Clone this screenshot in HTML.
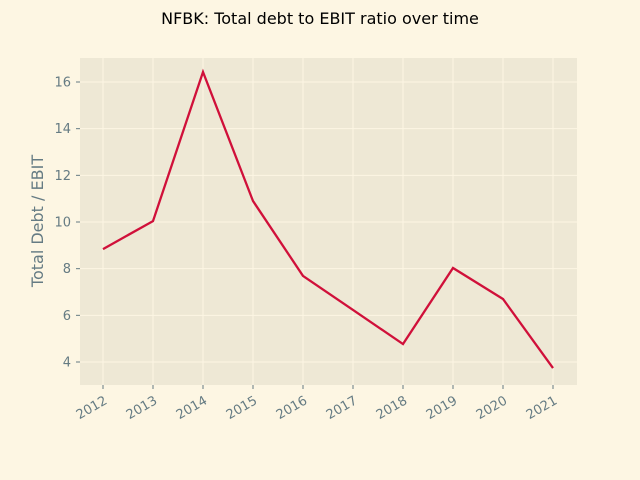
<!DOCTYPE html>
<html><head><meta charset="utf-8"><style>
body{margin:0;background:#fdf6e3;}
svg{display:block;font-family:"DejaVu Sans","Liberation Sans",sans-serif;}
</style></head><body>
<svg id="chart" width="640" height="480">
<rect x="0" y="0" width="640" height="480" fill="#fdf6e3"/>
<text x="320" y="24" text-anchor="middle" font-size="16" fill="#000">NFBK: Total debt to EBIT ratio over time</text>
<rect x="80" y="58" width="497" height="327" fill="#eee8d5"/>
<g id="grid"></g><g id="ticks"></g>
<text transform="translate(43,221) rotate(-90)" text-anchor="middle" font-size="16" fill="#657b83">Total Debt / EBIT</text>
<path id="line" fill="none" stroke="#d0103a" stroke-width="2.3"/>
</svg>
<script>
const years=[2012,2013,2014,2015,2016,2017,2018,2019,2020,2021];
const ratios=[8.84,10.04,16.43,10.9,7.69,6.23,4.77,8.03,6.7,3.74];
const yTicks=[4,6,8,10,12,14,16];
const NS="http://www.w3.org/2000/svg";
const xs=y=>103+(y-2012)*50;
const ys=v=>362-(v-4)*23.333;
const grid=document.getElementById('grid'),ticks=document.getElementById('ticks');
function mk(tag,attrs,parent){const e=document.createElementNS(NS,tag);for(const k in attrs)e.setAttribute(k,attrs[k]);parent.appendChild(e);return e;}
yTicks.forEach(v=>{
 const l=mk('line',{x1:80,x2:577,y1:ys(v),y2:ys(v),stroke:'#fdf6e3','stroke-width':1},grid);
 
 
 mk('line',{x1:76,x2:80,y1:ys(v),y2:ys(v),stroke:'#657b83'},ticks);
 const t=mk('text',{x:71,y:ys(v)+4.5,'text-anchor':'end','font-size':13,fill:'#657b83'},ticks);
 t.textContent=v;
 
 
});
years.forEach(y=>{
 const l=mk('line',{x1:xs(y),x2:xs(y),y1:58,y2:385,stroke:'#fdf6e3','stroke-width':1},grid);
 
 
 mk('line',{x1:xs(y),x2:xs(y),y1:385,y2:389,stroke:'#657b83'},ticks);
 const t=mk('text',{x:xs(y)+5,y:403,'text-anchor':'end','font-size':13,fill:'#657b83',transform:`rotate(-30 ${xs(y)+5} 403)`},ticks);
 t.textContent=y;
 
 
});
document.getElementById('line').setAttribute('d',years.map((y,i)=>(i?'L':'M')+xs(y)+' '+ys(ratios[i])).join(' '));
</script>
</body></html>
